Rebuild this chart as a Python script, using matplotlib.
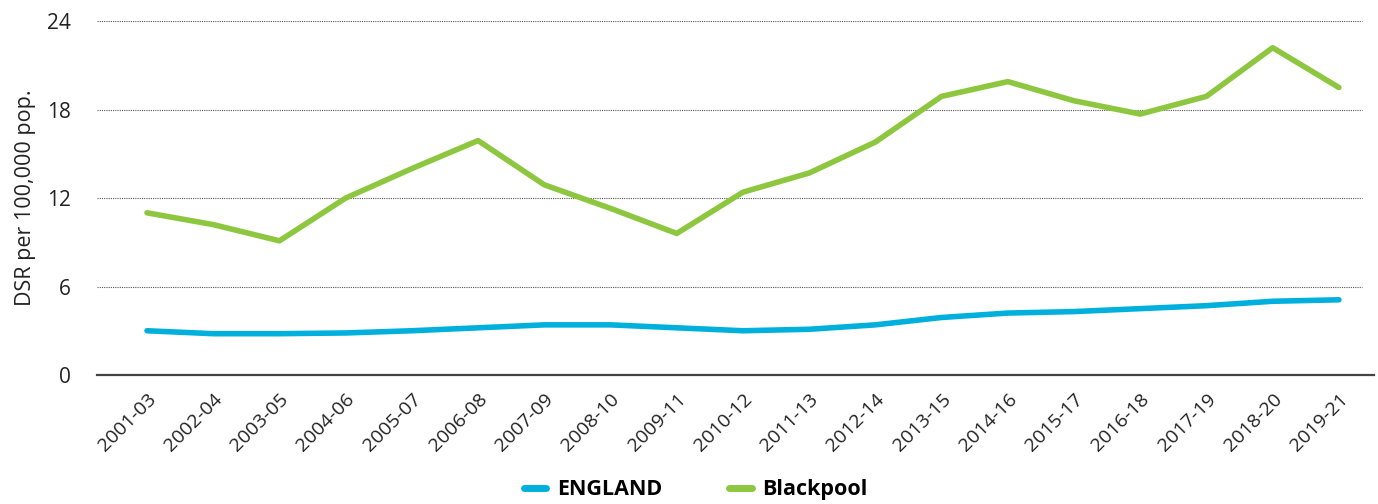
import matplotlib
matplotlib.use("Agg")
import matplotlib.pyplot as plt
from matplotlib.lines import Line2D

periods = ["2001-03", "2002-04", "2003-05", "2004-06", "2005-07", "2006-08", "2007-09",
           "2008-10", "2009-11", "2010-12", "2011-13", "2012-14", "2013-15", "2014-16",
           "2015-17", "2016-18", "2017-19", "2018-20", "2019-21"]
england = [3.0, 2.8, 2.8, 2.85, 3.0, 3.2, 3.4, 3.4, 3.2, 3.0, 3.1, 3.4, 3.9, 4.2, 4.3, 4.5, 4.7, 5.0, 5.1]
blackpool = [11.0, 10.2, 9.1, 12.0, 14.0, 15.9, 12.9, 11.3, 9.6, 12.4, 13.7, 15.8, 18.9, 19.9,
             18.6, 17.7, 18.9, 22.2, 19.5]
yticks = [0, 6, 12, 18, 24]

blue = "#00B0DC"
green = "#8DC63F"
FONT = ["Open Sans", "DejaVu Sans"]

fig = plt.figure(figsize=(13.78, 5.04), dpi=100)
ax = fig.add_axes([0.0704, 0.256, 0.9267, 0.702])

x = list(range(len(periods)))
ax.plot(x, england, color=blue, lw=4.0, solid_capstyle="round", solid_joinstyle="round")
ax.plot(x, blackpool, color=green, lw=4.0, solid_capstyle="round", solid_joinstyle="round")

xmin, xmax = -0.755, 18.53
ax.set_xlim(xmin, xmax)
ax.set_ylim(0, 24)
ax.set_yticks(yticks)
ax.set_yticklabels([str(v) for v in yticks], fontsize=15, family=FONT, color="#222222")
ax.set_xticks(x)
ax.set_xticklabels(periods, rotation=45, ha="right", rotation_mode="anchor",
                   fontsize=14, family=FONT, color="#222222")
ax.tick_params(axis="both", length=0)
ax.tick_params(axis="x", pad=11)
ax.tick_params(axis="y", pad=19)

for s in ["top", "right", "left"]:
    ax.spines[s].set_visible(False)
ax.spines["bottom"].set_color("#444444")
ax.spines["bottom"].set_linewidth(1.6)

ax.hlines(yticks[1:], xmin, 18.35, color="#555555", lw=0.8, ls=(0, (1, 1)), zorder=0)

ax.set_ylabel("DSR per 100,000 pop.", fontsize=15.5, family=FONT, color="#222222", labelpad=8)

handles = [Line2D([0], [0], color=blue, lw=5, solid_capstyle="round"),
           Line2D([0], [0], color=green, lw=5, solid_capstyle="round")]
fig.legend(handles, ["ENGLAND", "Blackpool"], loc="center", bbox_to_anchor=(0.505, 0.028),
           ncol=2, frameon=False, handlelength=1.05, handletextpad=0.5, columnspacing=3.1,
           borderpad=0, prop={"family": FONT, "weight": "bold", "size": 15.5})

fig.savefig("out.png", dpi=100)
